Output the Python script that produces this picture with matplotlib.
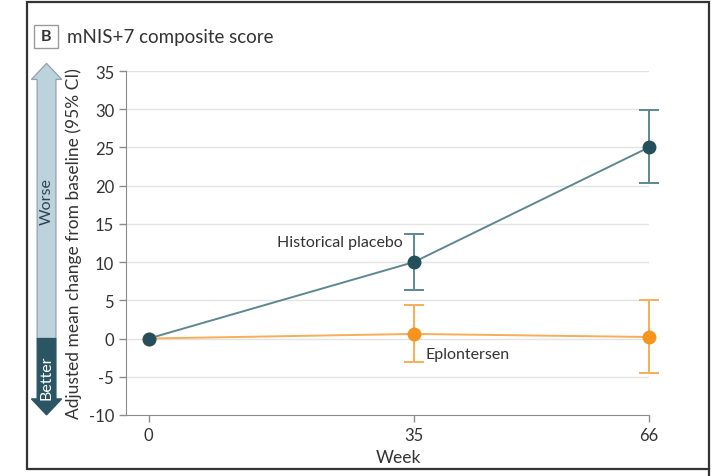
import numpy as np
import matplotlib
matplotlib.use("Agg")
import matplotlib.pyplot as plt
from matplotlib.patches import Polygon, Rectangle
from matplotlib.lines import Line2D

plt.rcParams["font.family"] = ["Lato", "DejaVu Sans"]
plt.rcParams["axes.unicode_minus"] = False

# mNIS+7 adjusted mean change from baseline
weeks = [0, 35, 66]
week_labels = ["0", "35", "66"]
placebo_mean = [0, 10.0, 25.0]
placebo_lo = [0, 6.3, 20.3]
placebo_hi = [0, 13.7, 29.9]
eplon_mean = [0, 0.6, 0.2]
eplon_lo = [0, -3.1, -4.5]
eplon_hi = [0, 4.4, 5.0]
y_ticks = [-10, -5, 0, 5, 10, 15, 20, 25, 30, 35]

TEAL = "#254f5c"
TEAL_LINE = "#5e8792"
ORANGE = "#f7931e"
ORANGE_LINE = "#f9ad55"
TXT = "#333333"

fig = plt.figure(figsize=(7.2, 4.77), dpi=100)
ax = fig.add_axes([0.175, 0.128, 0.726, 0.721])

ax.set_xlim(-3, 66)
ax.set_ylim(-10, 35)
ax.set_yticks(y_ticks)
ax.set_xticks(weeks)
ax.set_xticklabels(week_labels)
for y in y_ticks[1:]:
    ax.axhline(y, color="#e3e3e3", lw=1.0, zorder=0)

for s in ["top", "right"]:
    ax.spines[s].set_visible(False)
ax.spines["left"].set_color("#8c8c8c")
ax.spines["bottom"].set_color("#8c8c8c")
ax.tick_params(colors="#8c8c8c", labelcolor=TXT, labelsize=12, length=5, width=1)
ax.tick_params(axis="x", pad=4)

def draw_series(mean, lo, hi, line_c, mark_c, err_c):
    mean = np.asarray(mean)
    ax.plot(weeks, mean, color=line_c, lw=1.4, zorder=2)
    yerr = [mean - np.asarray(lo), np.asarray(hi) - mean]
    ax.errorbar(weeks[1:], mean[1:], yerr=[yerr[0][1:], yerr[1][1:]], fmt="none",
                ecolor=err_c, elinewidth=1.4, capsize=7, capthick=1.4,
                zorder=2, clip_on=False)
    ax.plot(weeks, mean, "o", color=mark_c, ms=9, zorder=3, clip_on=False)

draw_series(eplon_mean, eplon_lo, eplon_hi, ORANGE_LINE, ORANGE, ORANGE_LINE)
draw_series(placebo_mean, placebo_lo, placebo_hi, TEAL_LINE, TEAL, TEAL_LINE)

ax.text(16.9, 12.6, "Historical placebo", fontsize=11.5, color=TXT, va="center")
ax.text(36.6, -2.0, "Eplontersen", fontsize=11.5, color=TXT, va="center")

ax.set_xlabel("Week", fontsize=12.5, color=TXT)
ax.xaxis.set_label_coords(0.522, -0.098)
ax.set_ylabel("Adjusted mean change from baseline (95% CI)", fontsize=12.5, color=TXT)
ax.yaxis.set_label_coords(-0.084, 0.5)

# worse / better arrow beside the y axis
tr = ax.get_yaxis_transform()
bx0, bx1 = -0.170, -0.134
hx0, hx1 = -0.181, -0.123
xm = (bx0 + bx1) / 2
upper = Polygon([(bx0, 0), (bx0, 33.9), (hx0, 33.9), (xm, 36.0),
                 (hx1, 33.9), (bx1, 33.9), (bx1, 0)], closed=True,
                transform=tr, clip_on=False, facecolor="#bcd3dc",
                edgecolor="#8fa3aa", lw=0.9)
lower = Polygon([(bx0, 0), (bx0, -7.9), (hx0, -7.9), (xm, -10.0),
                 (hx1, -7.9), (bx1, -7.9), (bx1, 0)], closed=True,
                transform=tr, clip_on=False, facecolor="#2b5562",
                edgecolor="#2b5562", lw=0.9)
ax.add_patch(upper)
ax.add_patch(lower)
ax.text(xm, 18.0, "Worse", transform=tr, rotation=90, ha="center", va="center",
        fontsize=11.5, color="#2b4550")
ax.text(xm, -5.0, "Better", transform=tr, rotation=90, ha="center", va="center",
        fontsize=11.5, color="white")

# panel frame and heading
fig.patches.append(Rectangle((0.0375, 0.0147), 0.9472, 0.979, transform=fig.transFigure,
                             fill=False, edgecolor="#333333", lw=1.6))
fig.lines.append(Line2D([0.9847, 0.9847], [0.0, 0.0147], transform=fig.transFigure,
                        color="#333333", lw=1.6))
fig.patches.append(Rectangle((0.0472, 0.897), 0.0333, 0.049, transform=fig.transFigure,
                             fill=False, edgecolor="#9a9a9a", lw=1.0))
fig.text(0.0639, 0.9215, "B", fontsize=11.5, fontweight="bold", color=TXT,
         ha="center", va="center")
fig.text(0.093, 0.9215, "mNIS+7 composite score", fontsize=13.5, color=TXT,
         ha="left", va="center")

fig.savefig("out.png", dpi=100)
